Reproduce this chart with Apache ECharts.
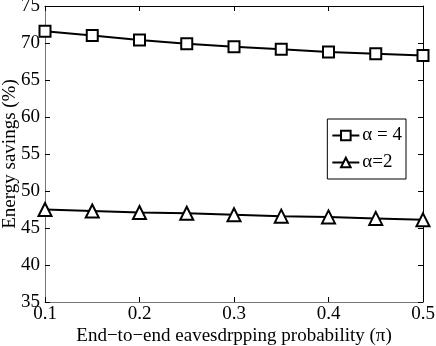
<!DOCTYPE html>
<html>
<head>
<meta charset="utf-8">
<script src="https://cdn.jsdelivr.net/npm/echarts@6/dist/echarts.min.js"></script>
<style>
  html, body { margin: 0; padding: 0; background: #fff; }
  #chart { width: 436px; height: 346px; }
</style>
</head>
<body>
<div id="chart"></div>
<script>
// eavesdropping probability on the x axis
var probs = [0.1, 0.15, 0.2, 0.25, 0.3, 0.35, 0.4, 0.45, 0.5];
// energy savings (%)
var alpha4 = [71.6, 71.0, 70.4, 69.9, 69.5, 69.15, 68.8, 68.55, 68.3];
var alpha2 = [47.5, 47.3, 47.1, 47.0, 46.8, 46.6, 46.5, 46.3, 46.1];

var font = "Liberation Serif";

function pairs(ys) {
  return probs.map(function (x, i) { return [x, ys[i]]; });
}

var myChart = echarts.init(document.getElementById("chart"));
var option = {
  animation: false,
  backgroundColor: "#fff",
  grid: { left: 45, right: 13, top: 6, bottom: 44, outerBoundsMode: "none" },
  legend: {
    orient: "vertical",
    right: 30,
    top: 119,
    padding: [7, 4, 7, 4],
    itemGap: 8,
    itemWidth: 27,
    itemHeight: 12,
    borderColor: "#000",
    borderWidth: 1,
    backgroundColor: "#fff",
    textStyle: { fontFamily: font, fontSize: 19, color: "#000", padding: [0, 0, 0, -2] },
    data: ["α = 4", "α=2"]
  },
  xAxis: [
    {
      type: "value", min: 0.1, max: 0.5, interval: 0.1,
      name: "End−to−end eavesdrpping probability (π)",
      nameLocation: "middle", nameGap: 25, nameMoveOverlap: false,
      nameTextStyle: { fontFamily: font, fontSize: 19, color: "#000" },
      axisLine: { lineStyle: { color: "#777" } },
      axisTick: { inside: true, length: 5, lineStyle: { color: "#000" } },
      axisLabel: { fontFamily: font, fontSize: 19, color: "#000", margin: 3,
        formatter: function (v) { return v.toFixed(1); } },
      splitLine: { show: false }
    },
    {
      type: "value", min: 0.1, max: 0.5, interval: 0.1, position: "top",
      axisLine: { lineStyle: { color: "#000" } },
      axisTick: { inside: true, length: 5, lineStyle: { color: "#000" } },
      axisLabel: { show: false }, splitLine: { show: false }
    }
  ],
  yAxis: [
    {
      type: "value", min: 35, max: 75, interval: 5,
      name: "Energy savings (%)",
      nameLocation: "middle", nameGap: 25, nameMoveOverlap: false,
      nameTextStyle: { fontFamily: font, fontSize: 19, color: "#000" },
      axisLine: { show: true, lineStyle: { color: "#777" } },
      axisTick: { show: true, inside: true, length: 5, lineStyle: { color: "#000" } },
      axisLabel: { fontFamily: font, fontSize: 19, color: "#000", margin: 5 },
      splitLine: { show: false }
    },
    {
      type: "value", min: 35, max: 75, interval: 5, position: "right",
      axisLine: { show: true, lineStyle: { color: "#000" } },
      axisTick: { show: true, inside: true, length: 5, lineStyle: { color: "#000" } },
      axisLabel: { show: false }, splitLine: { show: false }
    }
  ],
  series: [
    {
      name: "α = 4", type: "line", data: pairs(alpha4),
      symbol: "rect", symbolSize: 11,
      lineStyle: { color: "#000", width: 2 },
      itemStyle: { color: "#fff", borderColor: "#000", borderWidth: 2 }
    },
    {
      name: "α=2", type: "line", data: pairs(alpha2),
      symbol: "triangle", symbolSize: 13,
      lineStyle: { color: "#000", width: 2 },
      itemStyle: { color: "#fff", borderColor: "#000", borderWidth: 2 }
    }
  ]
};
myChart.setOption(option);
</script>
</body>
</html>
